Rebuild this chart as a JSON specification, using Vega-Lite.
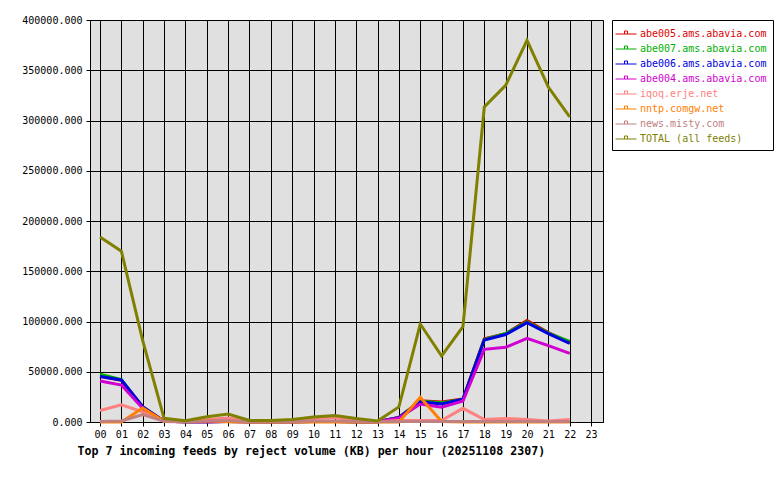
{
  "$schema": "https://vega.github.io/schema/vega-lite/v6.json",
  "width": 513,
  "height": 402,
  "autosize": "none",
  "padding": {"left": 90, "top": 20, "right": 177, "bottom": 58},
  "background": "white",
  "datasets": {
    "feeds": [
      {"hour": 0, "feed": "abe005.ams.abavia.com", "kb": 45500},
      {"hour": 1, "feed": "abe005.ams.abavia.com", "kb": 41500},
      {"hour": 2, "feed": "abe005.ams.abavia.com", "kb": 15000},
      {"hour": 3, "feed": "abe005.ams.abavia.com", "kb": 700},
      {"hour": 4, "feed": "abe005.ams.abavia.com", "kb": 200},
      {"hour": 5, "feed": "abe005.ams.abavia.com", "kb": 300},
      {"hour": 6, "feed": "abe005.ams.abavia.com", "kb": 400},
      {"hour": 7, "feed": "abe005.ams.abavia.com", "kb": 200},
      {"hour": 8, "feed": "abe005.ams.abavia.com", "kb": 200},
      {"hour": 9, "feed": "abe005.ams.abavia.com", "kb": 300},
      {"hour": 10, "feed": "abe005.ams.abavia.com", "kb": 400},
      {"hour": 11, "feed": "abe005.ams.abavia.com", "kb": 500},
      {"hour": 12, "feed": "abe005.ams.abavia.com", "kb": 300},
      {"hour": 13, "feed": "abe005.ams.abavia.com", "kb": 200},
      {"hour": 14, "feed": "abe005.ams.abavia.com", "kb": 4500},
      {"hour": 15, "feed": "abe005.ams.abavia.com", "kb": 21000},
      {"hour": 16, "feed": "abe005.ams.abavia.com", "kb": 19800},
      {"hour": 17, "feed": "abe005.ams.abavia.com", "kb": 23000},
      {"hour": 18, "feed": "abe005.ams.abavia.com", "kb": 82800},
      {"hour": 19, "feed": "abe005.ams.abavia.com", "kb": 87800},
      {"hour": 20, "feed": "abe005.ams.abavia.com", "kb": 101000},
      {"hour": 21, "feed": "abe005.ams.abavia.com", "kb": 89000},
      {"hour": 22, "feed": "abe005.ams.abavia.com", "kb": 79000},
      {"hour": 0, "feed": "abe007.ams.abavia.com", "kb": 47500},
      {"hour": 1, "feed": "abe007.ams.abavia.com", "kb": 42200},
      {"hour": 2, "feed": "abe007.ams.abavia.com", "kb": 14800},
      {"hour": 3, "feed": "abe007.ams.abavia.com", "kb": 700},
      {"hour": 4, "feed": "abe007.ams.abavia.com", "kb": 200},
      {"hour": 5, "feed": "abe007.ams.abavia.com", "kb": 300},
      {"hour": 6, "feed": "abe007.ams.abavia.com", "kb": 400},
      {"hour": 7, "feed": "abe007.ams.abavia.com", "kb": 200},
      {"hour": 8, "feed": "abe007.ams.abavia.com", "kb": 200},
      {"hour": 9, "feed": "abe007.ams.abavia.com", "kb": 300},
      {"hour": 10, "feed": "abe007.ams.abavia.com", "kb": 400},
      {"hour": 11, "feed": "abe007.ams.abavia.com", "kb": 500},
      {"hour": 12, "feed": "abe007.ams.abavia.com", "kb": 300},
      {"hour": 13, "feed": "abe007.ams.abavia.com", "kb": 200},
      {"hour": 14, "feed": "abe007.ams.abavia.com", "kb": 4500},
      {"hour": 15, "feed": "abe007.ams.abavia.com", "kb": 20500},
      {"hour": 16, "feed": "abe007.ams.abavia.com", "kb": 19200},
      {"hour": 17, "feed": "abe007.ams.abavia.com", "kb": 22500},
      {"hour": 18, "feed": "abe007.ams.abavia.com", "kb": 82000},
      {"hour": 19, "feed": "abe007.ams.abavia.com", "kb": 88200},
      {"hour": 20, "feed": "abe007.ams.abavia.com", "kb": 99500},
      {"hour": 21, "feed": "abe007.ams.abavia.com", "kb": 88500},
      {"hour": 22, "feed": "abe007.ams.abavia.com", "kb": 80200},
      {"hour": 0, "feed": "abe006.ams.abavia.com", "kb": 45200},
      {"hour": 1, "feed": "abe006.ams.abavia.com", "kb": 41800},
      {"hour": 2, "feed": "abe006.ams.abavia.com", "kb": 15200},
      {"hour": 3, "feed": "abe006.ams.abavia.com", "kb": 700},
      {"hour": 4, "feed": "abe006.ams.abavia.com", "kb": 200},
      {"hour": 5, "feed": "abe006.ams.abavia.com", "kb": 300},
      {"hour": 6, "feed": "abe006.ams.abavia.com", "kb": 400},
      {"hour": 7, "feed": "abe006.ams.abavia.com", "kb": 200},
      {"hour": 8, "feed": "abe006.ams.abavia.com", "kb": 200},
      {"hour": 9, "feed": "abe006.ams.abavia.com", "kb": 300},
      {"hour": 10, "feed": "abe006.ams.abavia.com", "kb": 400},
      {"hour": 11, "feed": "abe006.ams.abavia.com", "kb": 500},
      {"hour": 12, "feed": "abe006.ams.abavia.com", "kb": 300},
      {"hour": 13, "feed": "abe006.ams.abavia.com", "kb": 200},
      {"hour": 14, "feed": "abe006.ams.abavia.com", "kb": 4500},
      {"hour": 15, "feed": "abe006.ams.abavia.com", "kb": 20000},
      {"hour": 16, "feed": "abe006.ams.abavia.com", "kb": 17900},
      {"hour": 17, "feed": "abe006.ams.abavia.com", "kb": 22600},
      {"hour": 18, "feed": "abe006.ams.abavia.com", "kb": 81500},
      {"hour": 19, "feed": "abe006.ams.abavia.com", "kb": 87000},
      {"hour": 20, "feed": "abe006.ams.abavia.com", "kb": 98800},
      {"hour": 21, "feed": "abe006.ams.abavia.com", "kb": 88000},
      {"hour": 22, "feed": "abe006.ams.abavia.com", "kb": 78300},
      {"hour": 0, "feed": "abe004.ams.abavia.com", "kb": 40800},
      {"hour": 1, "feed": "abe004.ams.abavia.com", "kb": 36800},
      {"hour": 2, "feed": "abe004.ams.abavia.com", "kb": 13600},
      {"hour": 3, "feed": "abe004.ams.abavia.com", "kb": 600},
      {"hour": 4, "feed": "abe004.ams.abavia.com", "kb": 200},
      {"hour": 5, "feed": "abe004.ams.abavia.com", "kb": 300},
      {"hour": 6, "feed": "abe004.ams.abavia.com", "kb": 400},
      {"hour": 7, "feed": "abe004.ams.abavia.com", "kb": 200},
      {"hour": 8, "feed": "abe004.ams.abavia.com", "kb": 200},
      {"hour": 9, "feed": "abe004.ams.abavia.com", "kb": 300},
      {"hour": 10, "feed": "abe004.ams.abavia.com", "kb": 400},
      {"hour": 11, "feed": "abe004.ams.abavia.com", "kb": 500},
      {"hour": 12, "feed": "abe004.ams.abavia.com", "kb": 300},
      {"hour": 13, "feed": "abe004.ams.abavia.com", "kb": 200},
      {"hour": 14, "feed": "abe004.ams.abavia.com", "kb": 4000},
      {"hour": 15, "feed": "abe004.ams.abavia.com", "kb": 17900},
      {"hour": 16, "feed": "abe004.ams.abavia.com", "kb": 14600},
      {"hour": 17, "feed": "abe004.ams.abavia.com", "kb": 20900},
      {"hour": 18, "feed": "abe004.ams.abavia.com", "kb": 72300},
      {"hour": 19, "feed": "abe004.ams.abavia.com", "kb": 74300},
      {"hour": 20, "feed": "abe004.ams.abavia.com", "kb": 83300},
      {"hour": 21, "feed": "abe004.ams.abavia.com", "kb": 76000},
      {"hour": 22, "feed": "abe004.ams.abavia.com", "kb": 68300},
      {"hour": 0, "feed": "iqoq.erje.net", "kb": 11500},
      {"hour": 1, "feed": "iqoq.erje.net", "kb": 17000},
      {"hour": 2, "feed": "iqoq.erje.net", "kb": 10000},
      {"hour": 3, "feed": "iqoq.erje.net", "kb": 1000},
      {"hour": 4, "feed": "iqoq.erje.net", "kb": 500},
      {"hour": 5, "feed": "iqoq.erje.net", "kb": 2500},
      {"hour": 6, "feed": "iqoq.erje.net", "kb": 4000},
      {"hour": 7, "feed": "iqoq.erje.net", "kb": 800},
      {"hour": 8, "feed": "iqoq.erje.net", "kb": 500},
      {"hour": 9, "feed": "iqoq.erje.net", "kb": 1500},
      {"hour": 10, "feed": "iqoq.erje.net", "kb": 3500},
      {"hour": 11, "feed": "iqoq.erje.net", "kb": 4500},
      {"hour": 12, "feed": "iqoq.erje.net", "kb": 1500},
      {"hour": 13, "feed": "iqoq.erje.net", "kb": 300},
      {"hour": 14, "feed": "iqoq.erje.net", "kb": 1500},
      {"hour": 15, "feed": "iqoq.erje.net", "kb": 1500},
      {"hour": 16, "feed": "iqoq.erje.net", "kb": 1500},
      {"hour": 17, "feed": "iqoq.erje.net", "kb": 13600},
      {"hour": 18, "feed": "iqoq.erje.net", "kb": 2500},
      {"hour": 19, "feed": "iqoq.erje.net", "kb": 3500},
      {"hour": 20, "feed": "iqoq.erje.net", "kb": 2500},
      {"hour": 21, "feed": "iqoq.erje.net", "kb": 1000},
      {"hour": 22, "feed": "iqoq.erje.net", "kb": 2500},
      {"hour": 0, "feed": "nntp.comgw.net", "kb": 0},
      {"hour": 1, "feed": "nntp.comgw.net", "kb": 0},
      {"hour": 2, "feed": "nntp.comgw.net", "kb": 14000},
      {"hour": 3, "feed": "nntp.comgw.net", "kb": 800},
      {"hour": 4, "feed": "nntp.comgw.net", "kb": 300},
      {"hour": 5, "feed": "nntp.comgw.net", "kb": 1200},
      {"hour": 6, "feed": "nntp.comgw.net", "kb": 300},
      {"hour": 7, "feed": "nntp.comgw.net", "kb": 0},
      {"hour": 8, "feed": "nntp.comgw.net", "kb": 0},
      {"hour": 9, "feed": "nntp.comgw.net", "kb": 0},
      {"hour": 10, "feed": "nntp.comgw.net", "kb": 0},
      {"hour": 11, "feed": "nntp.comgw.net", "kb": 0},
      {"hour": 12, "feed": "nntp.comgw.net", "kb": 0},
      {"hour": 13, "feed": "nntp.comgw.net", "kb": 0},
      {"hour": 14, "feed": "nntp.comgw.net", "kb": 0},
      {"hour": 15, "feed": "nntp.comgw.net", "kb": 24500},
      {"hour": 16, "feed": "nntp.comgw.net", "kb": 500},
      {"hour": 17, "feed": "nntp.comgw.net", "kb": 0},
      {"hour": 18, "feed": "nntp.comgw.net", "kb": 0},
      {"hour": 19, "feed": "nntp.comgw.net", "kb": 0},
      {"hour": 20, "feed": "nntp.comgw.net", "kb": 0},
      {"hour": 21, "feed": "nntp.comgw.net", "kb": 0},
      {"hour": 22, "feed": "nntp.comgw.net", "kb": 0},
      {"hour": 0, "feed": "news.misty.com", "kb": 500},
      {"hour": 1, "feed": "news.misty.com", "kb": 1000},
      {"hour": 2, "feed": "news.misty.com", "kb": 7500},
      {"hour": 3, "feed": "news.misty.com", "kb": 800},
      {"hour": 4, "feed": "news.misty.com", "kb": 400},
      {"hour": 5, "feed": "news.misty.com", "kb": 1000},
      {"hour": 6, "feed": "news.misty.com", "kb": 1500},
      {"hour": 7, "feed": "news.misty.com", "kb": 300},
      {"hour": 8, "feed": "news.misty.com", "kb": 400},
      {"hour": 9, "feed": "news.misty.com", "kb": 500},
      {"hour": 10, "feed": "news.misty.com", "kb": 1000},
      {"hour": 11, "feed": "news.misty.com", "kb": 1000},
      {"hour": 12, "feed": "news.misty.com", "kb": 700},
      {"hour": 13, "feed": "news.misty.com", "kb": 300},
      {"hour": 14, "feed": "news.misty.com", "kb": 500},
      {"hour": 15, "feed": "news.misty.com", "kb": 500},
      {"hour": 16, "feed": "news.misty.com", "kb": 500},
      {"hour": 17, "feed": "news.misty.com", "kb": 500},
      {"hour": 18, "feed": "news.misty.com", "kb": 500},
      {"hour": 19, "feed": "news.misty.com", "kb": 500},
      {"hour": 20, "feed": "news.misty.com", "kb": 500},
      {"hour": 21, "feed": "news.misty.com", "kb": 500},
      {"hour": 22, "feed": "news.misty.com", "kb": 500},
      {"hour": 0, "feed": "TOTAL (all feeds)", "kb": 184200},
      {"hour": 1, "feed": "TOTAL (all feeds)", "kb": 170000},
      {"hour": 2, "feed": "TOTAL (all feeds)", "kb": 81000},
      {"hour": 3, "feed": "TOTAL (all feeds)", "kb": 3700},
      {"hour": 4, "feed": "TOTAL (all feeds)", "kb": 1300},
      {"hour": 5, "feed": "TOTAL (all feeds)", "kb": 5300},
      {"hour": 6, "feed": "TOTAL (all feeds)", "kb": 8000},
      {"hour": 7, "feed": "TOTAL (all feeds)", "kb": 1500},
      {"hour": 8, "feed": "TOTAL (all feeds)", "kb": 1500},
      {"hour": 9, "feed": "TOTAL (all feeds)", "kb": 2500},
      {"hour": 10, "feed": "TOTAL (all feeds)", "kb": 5000},
      {"hour": 11, "feed": "TOTAL (all feeds)", "kb": 6500},
      {"hour": 12, "feed": "TOTAL (all feeds)", "kb": 3500},
      {"hour": 13, "feed": "TOTAL (all feeds)", "kb": 1000},
      {"hour": 14, "feed": "TOTAL (all feeds)", "kb": 15000},
      {"hour": 15, "feed": "TOTAL (all feeds)", "kb": 97500},
      {"hour": 16, "feed": "TOTAL (all feeds)", "kb": 65700},
      {"hour": 17, "feed": "TOTAL (all feeds)", "kb": 94800},
      {"hour": 18, "feed": "TOTAL (all feeds)", "kb": 313400},
      {"hour": 19, "feed": "TOTAL (all feeds)", "kb": 335000},
      {"hour": 20, "feed": "TOTAL (all feeds)", "kb": 379700},
      {"hour": 21, "feed": "TOTAL (all feeds)", "kb": 333300},
      {"hour": 22, "feed": "TOTAL (all feeds)", "kb": 303500}
    ]
  },
  "data": {"name": "feeds"},
  "mark": {"type": "line", "strokeWidth": 3, "strokeJoin": "miter"},
  "encoding": {
    "x": {
      "field": "hour",
      "type": "quantitative",
      "scale": {"domain": [-0.47, 23.56], "nice": false, "zero": false},
      "axis": {
        "values": [0, 1, 2, 3, 4, 5, 6, 7, 8, 9, 10, 11, 12, 13, 14, 15, 16, 17, 18, 19, 20, 21, 22, 23],
        "labelExpr": "datum.value < 10 ? '0' + datum.value : '' + datum.value",
        "labelPadding": 3,
        "title": "Top 7 incoming feeds by reject volume (KB) per hour (20251108 2307)",
        "titleFont": "DejaVu Sans Mono",
        "titleFontSize": 11.6,
        "titleFontWeight": "bold",
        "titleColor": "black",
        "titleAlign": "left",
        "titleBaseline": "middle",
        "titleX": -13,
        "titleY": 29
      }
    },
    "y": {
      "field": "kb",
      "type": "quantitative",
      "scale": {"domain": [0, 400000], "nice": false},
      "axis": {
        "values": [0, 50000, 100000, 150000, 200000, 250000, 300000, 350000, 400000],
        "format": ".3f",
        "labelPadding": 4,
        "title": null
      }
    },
    "color": {
      "field": "feed",
      "type": "nominal",
      "sort": null,
      "scale": {
        "domain": ["abe005.ams.abavia.com", "abe007.ams.abavia.com", "abe006.ams.abavia.com", "abe004.ams.abavia.com", "iqoq.erje.net", "nntp.comgw.net", "news.misty.com", "TOTAL (all feeds)"],
        "range": ["#e00000", "#00b000", "#0000e0", "#d000d0", "#ff8080", "#ff8000", "#c08080", "#808000"]
      },
      "legend": {
        "orient": "none",
        "legendX": 522,
        "legendY": 0,
        "title": null,
        "symbolType": "M-1.4,0H1.4M-0.2,0V-0.4H0.2V0",
        "symbolSize": 225,
        "symbolStrokeWidth": 1,
        "symbolFillColor": "transparent",
        "labelOffset": 6,
        "padding": 6,
        "rowPadding": 2,
        "fillColor": "white",
        "strokeColor": "black",
        "labelFont": "DejaVu Sans Mono",
        "labelFontSize": 10,
        "labelLimit": 0,
        "encode": {
          "labels": {"update": {"fill": {"scale": "color", "field": "value"}}}
        }
      }
    }
  },
  "config": {
    "view": {"fill": "#e0e0e0", "stroke": "black", "strokeWidth": 1},
    "axis": {
      "labelFont": "DejaVu Sans Mono",
      "labelFontSize": 10,
      "labelColor": "black",
      "tickColor": "black",
      "tickSize": 4,
      "domainColor": "black",
      "grid": true,
      "gridColor": "black",
      "gridOpacity": 1,
      "gridWidth": 1
    }
  }
}
